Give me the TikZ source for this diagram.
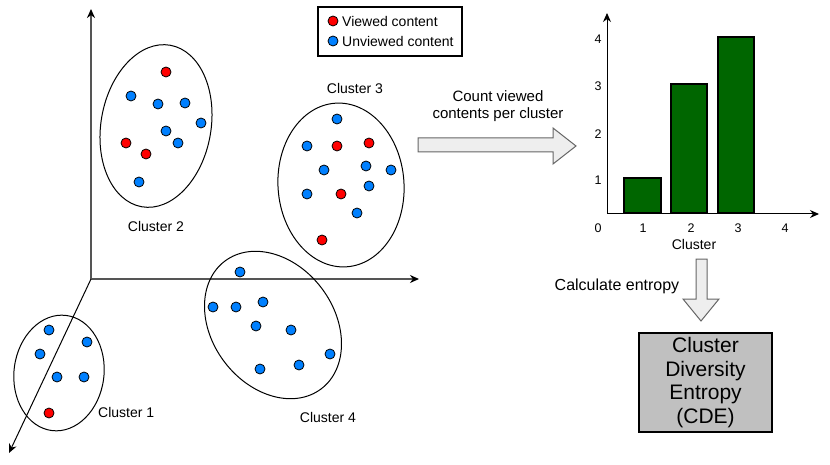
\documentclass[tikz,border=0pt]{standalone}
\usepackage{fontspec}
\setmainfont{Liberation Sans}
\usepackage{xcolor}
\usepackage{tikz}
\usetikzlibrary{arrows.meta}
\definecolor{viewRed}{HTML}{FF0000}
\definecolor{unviewBlue}{HTML}{0080FF}
\definecolor{barGreen}{HTML}{006600}
\definecolor{axisGray}{HTML}{555555}
\definecolor{flowGray}{HTML}{EEEEEE}
\definecolor{cdeGray}{HTML}{C0C0C0}
\newcommand{\px}[1]{\fontsize{#1}{#1}\selectfont}

\begin{document}
\begin{tikzpicture}[x=1pt, y=-1pt,
  seen/.style={fill=viewRed, draw=black, line width=0.8},
  unseen/.style={fill=unviewBlue, draw=black, line width=0.8},
  lbl/.style={font=\px{14}, inner sep=0},
  tick/.style={font=\px{12.5}, inner sep=0},
  bar/.style={fill=barGreen, draw=black, line width=2.5}]
  \useasboundingbox (0,0) rectangle (830,465);

  % 3D axes
  \coordinate (o) at (91,279);
  \coordinate (ytop) at (91,9);
  \coordinate (xend) at (419,279);
  \coordinate (zend) at (9,453);
  \draw[axisGray, line width=1.6, -{Stealth[length=9, width=8, color=black]}] (o) -- (ytop);
  \draw[axisGray, line width=1.6, -{Stealth[length=9, width=8, color=black]}] (o) -- (xend);
  \draw[black, line width=1, -{Stealth[length=9, width=8]}] (o) -- (zend);

  % Legend
  \draw[line width=2] (318,7) rectangle (462,56);
  \draw[seen] (333,21) circle [radius=5];
  \draw[unseen] (333,41) circle [radius=5];
  \node[lbl, anchor=west] (legview) at (342,21) {Viewed content};
  \node[lbl, anchor=west] (legunview) at (342,41) {Unviewed content};

  % Cluster 1
  \draw[line width=1, rotate around={-7:(59,373)}] (59,373) ellipse [x radius=45, y radius=58];
  \foreach \p in {(49,330),(87,342),(40,354),(57,377),(84,377)}
    \draw[unseen] \p circle [radius=5];
  \draw[seen] (49,413) circle [radius=5];
  \node[lbl, anchor=west] (c1) at (98,412) {Cluster 1};

  % Cluster 2
  \draw[line width=1, rotate around={-10:(156,126)}] (156,126) ellipse [x radius=55, y radius=82];
  \foreach \p in {(131,96),(158,104),(185,103),(201,123),(166,131),(178,143),(139,182)}
    \draw[unseen] \p circle [radius=5];
  \foreach \p in {(166,72),(126,143),(146,154)}
    \draw[seen] \p circle [radius=5];
  \node[lbl] (c2) at (156,226) {Cluster 2};

  % Cluster 3
  \draw[line width=1, rotate around={4:(341,185)}] (341,185) ellipse [x radius=63, y radius=82];
  \foreach \p in {(337,119),(307,146),(324,170),(366,166),(391,170),(307,194),(369,186),(357,213)}
    \draw[unseen] \p circle [radius=5];
  \foreach \p in {(337,146),(369,143),(341,194),(322,240)}
    \draw[seen] \p circle [radius=5];
  \node[lbl] (c3) at (355,88) {Cluster 3};

  % Cluster 4
  \draw[line width=1, rotate around={37:(273,325)}] (273,325) ellipse [x radius=61, y radius=80];
  \foreach \p in {(240,272),(213,307),(236,307),(263,302),(256,326),(291,330),(330,354),(299,365),(260,369)}
    \draw[unseen] \p circle [radius=5];
  \node[lbl] (c4) at (328,417) {Cluster 4};

  % Count step
  \draw[draw=black!60, fill=flowGray, line width=1]
    (418,138) -- (553,138) -- (553,128) -- (576,146) -- (553,164) -- (553,152) -- (418,152) -- cycle;
  \node[font=\px{15}, align=center, inner sep=0] (count) at (498,106) {Count viewed\\[2pt]contents per cluster};

  % Histogram
  \coordinate (ho) at (607,214);
  \coordinate (htop) at (607,13);
  \coordinate (hend) at (819,214);
  \draw[line width=1, -{Stealth[length=9, width=8]}] (ho) -- (htop);
  \draw[line width=1, -{Stealth[length=9, width=8]}] (ho) -- (hend);
  \draw[bar] (624,213) rectangle (661,178);
  \draw[bar] (671,213) rectangle (707,84);
  \draw[bar] (718,213) rectangle (754,37);
  \node[tick] (y0) at (598,228) {0};
  \node[tick] (y1) at (598,180) {1};
  \node[tick] (y2) at (598,134) {2};
  \node[tick] (y3) at (598,86) {3};
  \node[tick] (y4) at (598,39) {4};
  \node[tick] (x1) at (643,228) {1};
  \node[tick] (x2) at (691,228) {2};
  \node[tick] (x3) at (738,228) {3};
  \node[tick] (x4) at (785,228) {4};
  \node[lbl] (haxis) at (694,244) {Cluster};

  % Entropy step
  \draw[draw=black!60, fill=flowGray, line width=1]
    (696,259) -- (707,259) -- (707,299) -- (719,299) -- (701,321) -- (683,299) -- (696,299) -- cycle;
  \node[font=\px{16}, inner sep=0] (calc) at (617,286) {Calculate entropy};

  % Result
  \node[draw=black, fill=cdeGray, line width=2.5, minimum width=133, minimum height=99,
        inner sep=0, align=center, font=\fontsize{21}{23.5}\selectfont] (cde) at (705.5,382.5)
        {Cluster\\Diversity\\Entropy\\(CDE)};
\end{tikzpicture}
\end{document}
